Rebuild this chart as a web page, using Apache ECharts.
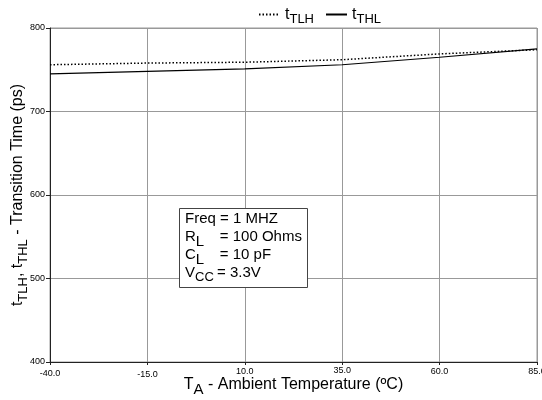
<!DOCTYPE html>
<html><head><meta charset="utf-8">
<script src="https://cdn.jsdelivr.net/npm/echarts@6/dist/echarts.min.js"></script>
<style>html,body{margin:0;padding:0;background:#fff}#c{width:542px;height:400px}</style>
</head><body><div id="c"></div>
<script>
// ---- data ----
const temps = [-40, -15, 10, 35, 60, 85];
const xTickLabels = ['-40.0', '-15.0', '10.0', '35.0', '60.0', '85.0'];
const yMin = 400, yMax = 800, yStep = 100;
const tTLH = [756, 758, 759, 762, 769, 774];
const tTHL = [745, 748, 751, 756, 765, 775];
const seriesNames = ['tTLH', 'tTHL'];
const boxFreq = 'Freq = 1 MHZ';
const boxRL = '= 100 Ohms';
const boxCL = '= 10 pF';
const boxVCC = '= 3.3V';

// ---- chart ----
const FONT = '"Liberation Sans", Arial, sans-serif';
const labelDy = [3, 4, 1, 0, 1, 1];
const xRich = {};
labelDy.forEach((d, i) => { xRich['r' + i] = { fontSize: 9, color: '#000', fontFamily: FONT, padding: [d, 0, 0, 0] }; });

const mainT = { fontSize: 16, color: '#000', fontFamily: FONT, lineHeight: 20 };
const subT = { fontSize: 13, color: '#000', fontFamily: FONT, lineHeight: 10, padding: [10, 0, 0, 0] };

const chart = echarts.init(document.getElementById('c'), null, { renderer: 'canvas' });
chart.setOption({
  animation: false,
  backgroundColor: '#fff',
  textStyle: { fontFamily: FONT },
  grid: { left: 50, right: 5, top: 28, bottom: 38, outerBoundsMode: 'none', containLabel: false,
          show: true, borderColor: '#999', borderWidth: 1, backgroundColor: '#fff' },
  legend: {
    top: -2, left: 253, itemWidth: 21, itemHeight: 10, itemGap: 11, itemTextGap: 3,
    data: seriesNames,
    itemStyle: { opacity: 0 },
    formatter: n => '{t|t}{s|' + n.slice(1) + '}',
    textStyle: { rich: { t: mainT, s: subT } }
  },
  xAxis: {
    type: 'category', data: temps, boundaryGap: false,
    axisLine: { lineStyle: { color: '#222', width: 1 } },
    axisTick: { show: true, length: 3, alignWithLabel: true, lineStyle: { color: '#222' } },
    axisLabel: { margin: 4, formatter: (v, i) => '{r' + i + '|' + xTickLabels[i] + '}', rich: xRich },
    splitLine: { show: true, lineStyle: { color: '#999', width: 1 } },
    name: '{t|T}{s|A}{t| - Ambient Temperature (ºC)}',
    nameLocation: 'middle', nameGap: 13, nameMoveOverlap: false,
    nameTextStyle: { rich: { t: mainT, s: Object.assign({}, subT, { fontSize: 15 }) } }
  },
  yAxis: {
    type: 'value', min: yMin, max: yMax, interval: yStep,
    axisLine: { show: true, lineStyle: { color: '#222', width: 1 } },
    axisTick: { show: true, length: 4, lineStyle: { color: '#222' } },
    axisLabel: { margin: 5, fontSize: 9, color: '#000', fontFamily: FONT },
    splitLine: { show: true, lineStyle: { color: '#999', width: 1 } },
    name: '{t|t}{s|TLH}{t|, t}{s|THL}{t| - Transition Time (ps)}',
    nameLocation: 'middle', nameRotate: 90, nameGap: 22, nameMoveOverlap: false,
    nameTextStyle: { rich: { t: mainT, s: subT } }
  },
  series: [
    { name: seriesNames[0], type: 'line', data: tTLH, symbol: 'none', smooth: false,
      lineStyle: { color: '#000', width: 1.5, type: [1.5, 2] }, itemStyle: { color: '#000' } },
    { name: seriesNames[1], type: 'line', data: tTHL, symbol: 'none', smooth: false,
      lineStyle: { color: '#000', width: 1.2 }, itemStyle: { color: '#000' } }
  ],
  graphic: [
    { type: 'rect', left: 179, top: 208, shape: { width: 128, height: 79 },
      style: { fill: '#fff', stroke: '#444', lineWidth: 1 }, z: 100 },
    { type: 'text', left: 185, top: 211, z: 101,
      style: {
        text: '{n|' + boxFreq + '}\n{n|R}{k|L}{n|' + boxRL + '}\n{n|C}{k|L}{n|' + boxCL + '}\n{n|V}{c|CC}{n|' + boxVCC + '}',
        rich: {
          n: { fontSize: 15, fill: '#000', fontFamily: FONT, lineHeight: 18 },
          k: { fontSize: 15, fill: '#000', fontFamily: FONT, lineHeight: 8, padding: [10, 0, 0, 0], width: 24 },
          c: { fontSize: 13, fill: '#000', fontFamily: FONT, lineHeight: 8, padding: [10, 0, 0, 0], width: 22 }
        }
      } }
  ]
});
</script></body></html>
